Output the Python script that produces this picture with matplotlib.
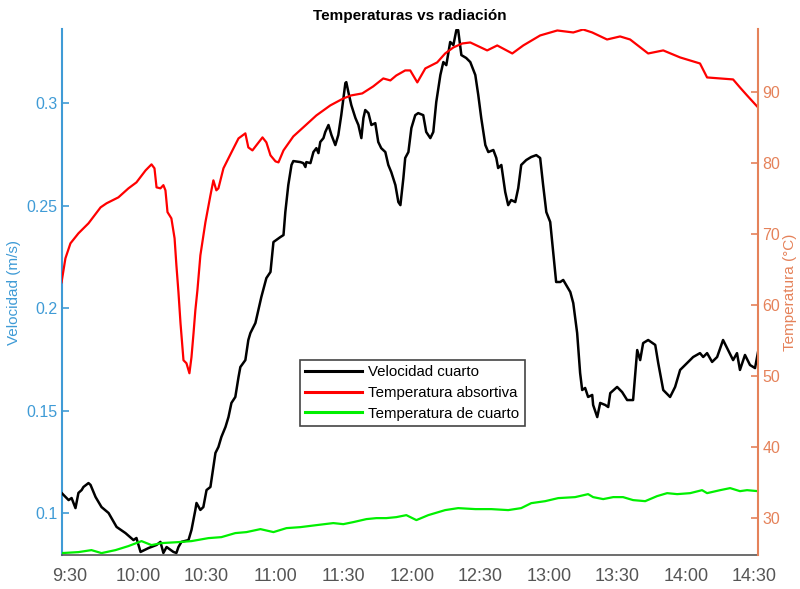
import matplotlib
matplotlib.use("Agg")
import matplotlib.pyplot as plt
from matplotlib.ticker import FixedLocator, FuncFormatter

plt.rcParams['font.family'] = ['Liberation Sans', 'DejaVu Sans']

# Time axis in minutes after midnight
vel_t = [566.5, 569.6, 570.9, 572.6, 573.9, 575.3, 576.1, 578.3, 579.2, 581.4,
         584.0, 587.1, 590.6, 594.5, 598.0, 599.3, 601.1, 604.6, 608.1, 609.8,
         611.1, 612.5, 615.5, 616.8, 617.7, 619.0, 622.1, 623.4, 625.1, 625.6,
         627.3, 628.6, 630.0, 631.7, 633.0, 633.9, 635.2, 636.5, 638.3, 639.6,
         640.9, 642.6, 644.0, 644.8, 647.0, 648.3, 649.2, 651.4, 652.7, 654.0,
         656.2, 658.0, 659.3, 662.3, 663.7, 664.5, 665.8, 667.2, 668.0, 671.1,
         672.4, 673.3, 673.7, 675.5, 676.8, 678.1, 679.0, 679.8, 681.2, 682.0,
         683.4, 684.7, 686.4, 687.7, 689.0, 690.8, 691.2, 692.1, 693.4, 695.2,
         696.5, 697.8, 698.7, 699.5, 700.9, 702.2, 703.9, 705.2, 706.5, 708.3,
         709.6, 710.9, 712.7, 714.0, 714.9, 716.2, 717.0, 718.4, 719.7, 721.4,
         722.7, 724.9, 726.2, 728.0, 729.3, 730.6, 732.4, 733.7, 735.0, 736.7,
         738.1, 739.4, 740.2, 741.6, 743.7, 745.5, 747.7, 749.0, 750.3, 752.1,
         753.4, 755.6, 756.9, 757.7, 759.1, 760.8, 762.1, 763.4, 765.2, 766.5,
         767.8, 770.0, 772.2, 774.4, 776.1, 777.4, 778.8, 780.5, 781.8, 783.1,
         784.9, 786.2, 787.5, 789.3, 790.6, 792.3, 793.6, 794.5, 795.8, 797.1,
         798.9, 799.3, 801.1, 802.4, 804.6, 805.9, 806.8, 809.8, 812.0, 814.2,
         816.8, 818.6, 819.9, 821.2, 823.4, 826.5, 827.8, 830.0, 833.0, 835.2,
         837.4, 840.5, 843.1, 846.1, 847.5, 849.2, 851.4, 853.6, 856.2, 858.4,
         860.6, 862.3, 863.6, 865.8, 868.0, 870.2, 871.5]
vel_room = [0.1098, 0.1063, 0.1073, 0.1024, 0.1098, 0.1112, 0.1127, 0.1146, 0.1137, 0.1078,
            0.1029, 0.1000, 0.0932, 0.0902, 0.0868, 0.0878, 0.0810, 0.0829, 0.0844, 0.0859,
            0.0805, 0.0834, 0.0810, 0.0805, 0.0834, 0.0859, 0.0868, 0.0917, 0.1015, 0.1049,
            0.1015, 0.1029, 0.1112, 0.1127, 0.1224, 0.1293, 0.1322, 0.1371, 0.1420, 0.1468,
            0.1537, 0.1566, 0.1663, 0.1712, 0.1746, 0.1844, 0.1878, 0.1927, 0.1990, 0.2054,
            0.2146, 0.2176, 0.2322, 0.2346, 0.2356, 0.2468, 0.2600, 0.2698, 0.2717, 0.2712,
            0.2707, 0.2688, 0.2712, 0.2707, 0.2761, 0.2780, 0.2756, 0.2810, 0.2829, 0.2859,
            0.2893, 0.2844, 0.2795, 0.2844, 0.2941, 0.3098, 0.3102, 0.3054, 0.2990, 0.2927,
            0.2893, 0.2829, 0.2927, 0.2966, 0.2951, 0.2893, 0.2902, 0.2810, 0.2780, 0.2761,
            0.2698, 0.2663, 0.2600, 0.2517, 0.2502, 0.2634, 0.2732, 0.2761, 0.2878, 0.2941,
            0.2951, 0.2941, 0.2859, 0.2829, 0.2859, 0.3005, 0.3137, 0.3200, 0.3185, 0.3298,
            0.3283, 0.3356, 0.3356, 0.3234, 0.3220, 0.3200, 0.3137, 0.3039, 0.2927, 0.2795,
            0.2761, 0.2771, 0.2732, 0.2683, 0.2698, 0.2566, 0.2502, 0.2527, 0.2517, 0.2585,
            0.2698, 0.2722, 0.2737, 0.2746, 0.2732, 0.2600, 0.2468, 0.2420, 0.2273, 0.2127,
            0.2127, 0.2137, 0.2112, 0.2078, 0.2024, 0.1878, 0.1683, 0.1600, 0.1610, 0.1566,
            0.1576, 0.1527, 0.1468, 0.1537, 0.1527, 0.1517, 0.1585, 0.1615, 0.1590, 0.1551,
            0.1551, 0.1795, 0.1746, 0.1829, 0.1844, 0.1820, 0.1732, 0.1600, 0.1566, 0.1615,
            0.1698, 0.1732, 0.1761, 0.1780, 0.1761, 0.1780, 0.1737, 0.1761, 0.1844, 0.1795,
            0.1746, 0.1780, 0.1698, 0.1771, 0.1722, 0.1707, 0.1785]

abs_t = [566.5, 568.2, 570.4, 573.9, 578.3, 583.6, 586.2, 591.4, 595.8, 599.3,
         603.3, 605.9, 607.2, 608.1, 609.8, 611.1, 612.0, 612.9, 614.6, 616.0,
         616.8, 617.7, 618.6, 619.9, 621.2, 622.5, 623.4, 624.3, 625.1, 626.0,
         627.3, 629.5, 631.7, 633.0, 634.3, 635.2, 637.4, 638.7, 640.9, 644.0,
         647.0, 648.3, 650.1, 651.8, 654.5, 656.2, 658.0, 660.2, 661.5, 663.7,
         668.0, 673.3, 678.1, 684.2, 689.9, 693.4, 698.2, 703.0, 707.4, 710.5,
         713.1, 717.0, 719.2, 722.3, 725.8, 731.0, 734.5, 738.1, 742.0, 745.5,
         752.9, 757.3, 763.9, 768.7, 776.1, 783.6, 790.6, 794.9, 798.9, 805.4,
         811.1, 815.5, 823.4, 830.0, 837.4, 846.1, 849.2, 854.9, 860.6, 863.6,
         866.7, 871.5]
temp_abs = [63.24, 66.62, 68.73, 70.14, 71.55, 73.80, 74.37, 75.21, 76.48, 77.32,
            79.01, 79.86, 79.30, 76.62, 76.48, 76.93, 76.20, 73.13, 72.25, 69.44,
            65.63, 61.83, 57.46, 52.25, 51.83, 50.42, 52.68, 56.06, 59.30, 62.11,
            67.04, 71.69, 75.49, 77.61, 76.20, 76.48, 79.30, 80.14, 81.55, 83.52,
            84.23, 82.25, 81.83, 82.54, 83.66, 82.96, 81.13, 80.28, 80.14, 81.83,
            83.80, 85.35, 86.76, 88.17, 89.15, 89.58, 89.86, 90.85, 91.97, 91.69,
            92.39, 93.10, 93.10, 91.41, 93.38, 94.23, 95.49, 96.34, 96.90, 97.04,
            95.92, 96.62, 95.49, 96.62, 98.03, 98.73, 98.45, 98.87, 98.45, 97.46,
            97.89, 97.46, 95.49, 95.92, 94.93, 94.08, 92.11, 91.97, 91.83, 90.70,
            89.58, 87.89]

room_t = [566.5, 573.9, 579.6, 584.0, 590.1, 595.8, 601.5, 605.9, 610.3, 617.7,
          623.4, 630.8, 636.5, 642.6, 647.5, 653.6, 659.3, 665.0, 671.1, 678.1,
          685.5, 689.9, 694.3, 700.0, 704.4, 708.7, 713.1, 717.5, 721.9, 727.1,
          734.5, 740.2, 747.7, 754.7, 762.1, 767.8, 772.2, 778.3, 784.0, 791.4,
          797.1, 799.3, 803.7, 808.1, 812.4, 816.8, 822.1, 827.3, 831.7, 836.1,
          841.8, 847.0, 849.2, 854.9, 859.3, 863.6, 866.7, 871.5]
temp_room = [25.07, 25.21, 25.49, 25.07, 25.49, 26.06, 26.76, 26.20, 26.48, 26.62,
             26.76, 27.18, 27.32, 27.89, 28.03, 28.45, 28.03, 28.59, 28.73, 29.01,
             29.30, 29.15, 29.44, 29.86, 30.00, 30.00, 30.14, 30.42, 29.72, 30.42,
             31.13, 31.41, 31.27, 31.27, 31.13, 31.41, 32.11, 32.39, 32.82, 32.96,
             33.38, 32.96, 32.68, 32.96, 32.96, 32.54, 32.39, 33.10, 33.52, 33.38,
             33.52, 33.94, 33.52, 33.94, 34.23, 33.80, 33.94, 33.80]

x_ticks = [570, 600, 630, 660, 690, 720, 750, 780, 810, 840, 870]
vel_ticks = [0.1, 0.15, 0.2, 0.25, 0.3]
vel_tick_labels = ["0.1", "0.15", "0.2", "0.25", "0.3"]
temp_ticks = [30, 40, 50, 60, 70, 80, 90]

BLUE = "#3f9bd6"
ORANGE = "#e5825a"
GRAY = "#555555"

fig = plt.figure(figsize=(8.0, 5.89), dpi=100)
ax = fig.add_axes([0.0775, 0.0577, 0.87, 0.8926])
ax2 = ax.twinx()

l1, = ax.plot(vel_t, vel_room, color="black", lw=1.8, zorder=5)
l2, = ax2.plot(abs_t, temp_abs, color="#ff0000", lw=1.6)
l3, = ax2.plot(room_t, temp_room, color="#00f000", lw=1.6)

ax.set_xlim(566.7, 871.5)
ax.set_ylim(0.0795, 0.336)
ax2.set_ylim(24.8, 98.9)

ax.xaxis.set_major_locator(FixedLocator(x_ticks))
ax.xaxis.set_major_formatter(FuncFormatter(lambda v, p: f"{int(v)//60}:{int(v)%60:02d}"))
ax.set_yticks(vel_ticks)
ax.set_yticklabels(vel_tick_labels)
ax2.set_yticks(temp_ticks)

for a in (ax, ax2):
    a.spines['top'].set_visible(False)
ax.spines['right'].set_visible(False)
ax2.spines['left'].set_visible(False)
ax2.spines['bottom'].set_visible(False)
ax.spines['left'].set_color(BLUE)
ax.spines['left'].set_linewidth(1.5)
ax2.spines['right'].set_color(ORANGE)
ax2.spines['right'].set_linewidth(1.5)
ax.spines['bottom'].set_color(GRAY)
ax.spines['bottom'].set_linewidth(1.2)

ax.tick_params(axis='x', direction='in', length=0, colors=GRAY, labelsize=13, pad=9)
ax.tick_params(axis='y', direction='in', length=5, width=1.2, colors=BLUE, labelsize=11.5, pad=3)
ax2.tick_params(axis='y', direction='in', length=5, width=1.2, colors=ORANGE, labelsize=11.5, pad=3)

ax.set_ylabel("Velocidad (m/s)", color=BLUE, fontsize=11, labelpad=4)
ax2.set_ylabel("Temperatura (°C)", color=ORANGE, fontsize=11, labelpad=2)
ax.set_title("Temperaturas vs radiación", fontsize=11, fontweight='bold', pad=7)

leg = fig.legend([l1, l2, l3],
                 ["Velocidad cuarto", "Temperatura absortiva", "Temperatura de cuarto"],
                 loc='upper left', bbox_to_anchor=(0.375, 0.389),
                 fontsize=10.8, handlelength=3.8, handletextpad=0.4,
                 labelspacing=0.45, borderpad=0.35, fancybox=False,
                 framealpha=1, edgecolor="#444444", borderaxespad=0)
leg.get_frame().set_linewidth(1.2)
for line in leg.get_lines():
    line.set_linewidth(2.2)

fig.savefig("out.png", dpi=100)
